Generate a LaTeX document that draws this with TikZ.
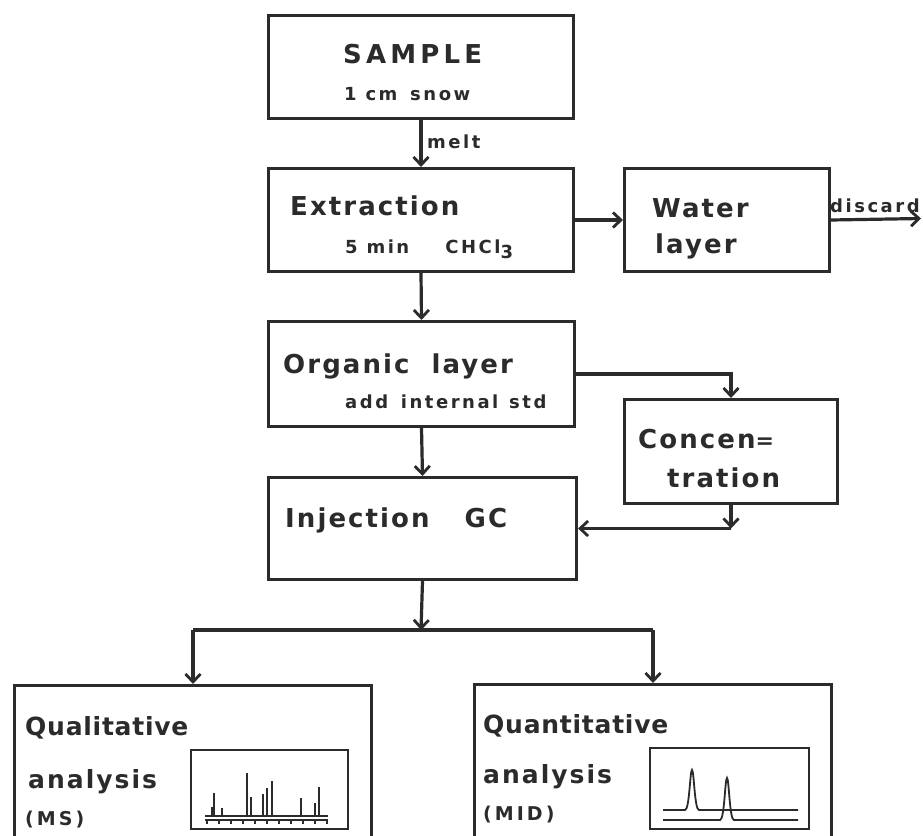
\documentclass[tikz,border=0pt]{standalone}
\usepackage{fontspec}
\setmainfont[LetterSpace=8]{DejaVu Sans Bold}
\newfontfamily\tightf[LetterSpace=3]{DejaVu Sans Bold}
\newfontfamily\widef[LetterSpace=16]{DejaVu Sans Bold}
\newfontfamily\smf[LetterSpace=14]{DejaVu Sans Bold}
\usetikzlibrary{arrows.meta}
\definecolor{ink}{HTML}{2B2B2B}
\tikzset{
 box/.style={draw=ink, line width=3pt, anchor=north west, inner sep=0pt, rectangle},
 gbox/.style={draw=ink, line width=2pt, anchor=north west, inner sep=0pt, rectangle},
 lbl/.style={anchor=base west, inner sep=0pt, text=ink, font=\fontsize{26}{26}\selectfont},
 sml/.style={anchor=base west, inner sep=0pt, text=ink, font=\smf\fontsize{18}{18}\selectfont},
 conn/.style={draw=ink, line width=3.2pt},
 arr/.style={conn, -{Straight Barb[length=8pt,width=15pt,line width=2.8pt]}},
 trace/.style={draw=ink, line width=1.8pt},
}
\begin{document}
\begin{tikzpicture}[x=1pt,y=-1pt]
\clip (0,0) rectangle (923,835);
\fill[white] (0,0) rectangle (923,835);

% boxes
\node[box, minimum width=305pt, minimum height=103pt] (sample) at (267,14) {};
\node[box, minimum width=305pt, minimum height=103pt] (extr) at (267,167) {};
\node[box, minimum width=205pt, minimum height=103pt] (water) at (623,167) {};
\node[box, minimum width=306pt, minimum height=105pt] (org) at (267,320) {};
\node[box, minimum width=213pt, minimum height=104pt] (conc) at (623,398) {};
\node[box, minimum width=308pt, minimum height=102pt] (inj) at (267,476) {};
\node[box, minimum width=357pt, minimum height=220pt] (qual) at (13,684) {};
\node[box, minimum width=357pt, minimum height=220pt] (quant) at (473,683) {};

% texts
\node[lbl, font=\widef\fontsize{26}{26}\selectfont] (tsample) at (343,63) {SAMPLE};
\node[sml] (tsnow) at (344,100) {1 cm\hspace{4pt} snow};
\node[sml] (tmelt) at (427,148) {melt};
\node[lbl] (textr) at (290,215) {Extraction};
\node[sml] (tmin) at (345,253) {5 min\hspace{36pt}CHCl\raisebox{-5pt}{3}};
\node[lbl] (twater) at (652,217) {Water};
\node[lbl] (tlayer1) at (655,253) {layer};
\node[sml] (tdiscard) at (830,212) {discard};
\node[lbl] (torg) at (283,373) {Organic\hspace{22pt}layer};
\node[sml] (tstd) at (345,408) {add\hspace{4pt} internal\hspace{2pt} std};
\node[lbl] (tconc1) at (638,448) {Concen{\fontsize{22}{22}\selectfont =}};
\node[lbl] (tconc2) at (667,487) {tration};
\node[lbl] (tinj) at (285,527) {Injection\hspace{35pt}GC};
\node[lbl, font=\tightf\fontsize{25}{25}\selectfont] (tqual) at (25,735) {Qualitative};
\node[lbl, font=\fontsize{25}{25}\selectfont] (tana1) at (28,788) {analysis};
\node[sml, font=\widef\fontsize{19}{19}\selectfont] (tms) at (25,825) {(MS)};
\node[lbl, font=\tightf\fontsize{25}{25}\selectfont] (tquant) at (483,733) {Quantitative};
\node[lbl, font=\fontsize{25}{25}\selectfont] (tana2) at (483,783) {analysis};
\node[sml, font=\widef\fontsize{19}{19}\selectfont] (tmid) at (483,820) {(MID)};

% connectors
\draw[arr] (sample.south) -- (extr.north);
\draw[arr] (extr.east) -- (water.west);
\coordinate (dis) at (921,218.5);
\draw[arr] (water.east) -- (dis);
\draw[arr] (extr.south) -- (org.north);
\draw[arr] (org.east) -| (conc.north);
\draw[arr] (org.south) -- (inj.north);
\coordinate (cc) at (conc.south |- inj.east);
\draw[arr] (conc.south) -- (cc);
\draw[arr] (cc) -- (inj.east);
\coordinate (jn) at (421,630);
\draw[arr] (inj.south) -- (jn);
\coordinate (jl) at (qual.north |- jn);
\coordinate (jr) at (quant.north |- jn);
\draw[conn] (jl) -- (jr);
\draw[arr] (jl) -- (qual.north);
\draw[arr] (jr) -- (quant.north);

% mass spectrum
\node[gbox, minimum width=157pt, minimum height=79pt] (msbox) at (190,749) {};
\draw[trace] (205,816) -- (328,816);
\draw[trace] (205,820) -- (328,820);
\foreach \t in {207,219,...,327} \draw[ink, line width=1.2pt] (\t,820) -- (\t,823.5);
\foreach \px/\py in {214.3/792.7, 221.7/807.7, 246.7/772.7, 250.7/796.7, 263.3/794, 267.3/788.3, 271.7/780.7, 301/798.3, 315.3/802.7, 319.3/787.3}
  \draw[trace] (\px,816) -- (\px,\py);
\draw[trace] (211.7,816) -- (211.7,807.7) -- (214.3,807.7);

% MID trace
\node[gbox, minimum width=159pt, minimum height=81pt] (midbox) at (649,747) {};
\draw[trace] (663,810) -- (685,810) .. controls (689.5,810) and (690,770) .. (692,770) .. controls (694,770) and (694.5,810) .. (699,810) -- (798,810);
\draw[trace] (663,820) -- (720,820) .. controls (724.5,820) and (725,778) .. (727,778) .. controls (729,778) and (729.5,820) .. (734,820) -- (798,820);
\end{tikzpicture}
\end{document}
